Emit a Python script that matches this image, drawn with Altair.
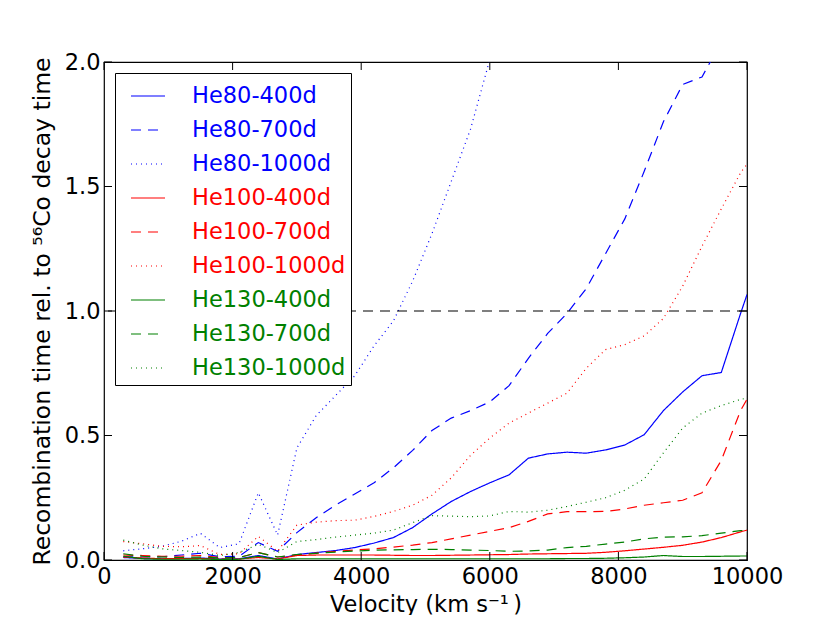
import altair as alt
import pandas as pd

velocity = [300, 600, 900, 1200, 1500, 1800, 2100, 2400, 2700, 3000, 3300, 3600,
            3900, 4200, 4500, 4800, 5100, 5400, 5700, 6000, 6300, 6600, 6900, 7200,
            7500, 7800, 8100, 8400, 8700, 9000, 9300, 9600, 9900, 10000]

he80_400 = [0.010, 0.006, 0.005, 0.006, 0.008, 0.004, 0.005, 0.018, 0.004, 0.022, 0.030, 0.038,
            0.050, 0.068, 0.090, 0.130, 0.185, 0.235, 0.275, 0.310, 0.342, 0.409, 0.426, 0.433,
            0.429, 0.442, 0.462, 0.503, 0.600, 0.675, 0.740, 0.753, 0.990, 1.066]
he80_700 = [0.013, 0.012, 0.013, 0.020, 0.027, 0.013, 0.015, 0.070, 0.035, 0.110, 0.170, 0.220,
            0.265, 0.310, 0.370, 0.440, 0.520, 0.570, 0.600, 0.635, 0.700, 0.810, 0.910, 0.990,
            1.090, 1.230, 1.370, 1.560, 1.760, 1.910, 1.940, 2.080, 2.200, 2.250]
he80_1000 = [0.037, 0.045, 0.055, 0.075, 0.107, 0.050, 0.065, 0.270, 0.100, 0.450, 0.580, 0.660,
             0.740, 0.860, 0.960, 1.120, 1.310, 1.520, 1.730, 2.010, 2.300, None, None, None,
             None, None, None, None, None, None, None, None, None, None]
he100_400 = [0.012, 0.008, 0.005, 0.006, 0.006, 0.003, 0.004, 0.010, 0.004, 0.018, 0.020, 0.020,
             0.020, 0.020, 0.019, 0.018, 0.018, 0.019, 0.020, 0.021, 0.022, 0.024, 0.025, 0.026,
             0.027, 0.031, 0.037, 0.044, 0.051, 0.059, 0.072, 0.090, 0.113, 0.120]
he100_700 = [0.020, 0.018, 0.015, 0.015, 0.018, 0.010, 0.010, 0.030, 0.012, 0.020, 0.028, 0.035,
             0.040, 0.045, 0.052, 0.060, 0.070, 0.085, 0.100, 0.115, 0.130, 0.155, 0.185, 0.194,
             0.194, 0.195, 0.205, 0.220, 0.230, 0.240, 0.270, 0.400, 0.600, 0.645]
he100_1000 = [0.074, 0.065, 0.055, 0.053, 0.058, 0.022, 0.025, 0.095, 0.035, 0.140, 0.152, 0.158,
              0.160, 0.175, 0.195, 0.220, 0.260, 0.330, 0.420, 0.490, 0.550, 0.590, 0.630, 0.670,
              0.770, 0.845, 0.865, 0.900, 0.970, 1.100, 1.260, 1.410, 1.555, 1.590]
he130_400 = [0.015, 0.005, 0.003, 0.003, 0.004, 0.002, 0.003, 0.015, 0.002, 0.005, 0.005, 0.005,
             0.005, 0.005, 0.005, 0.005, 0.005, 0.005, 0.005, 0.005, 0.005, 0.005, 0.005, 0.006,
             0.006, 0.007, 0.009, 0.012, 0.018, 0.014, 0.014, 0.015, 0.016, 0.016]
he130_700 = [0.025, 0.015, 0.012, 0.010, 0.012, 0.008, 0.010, 0.030, 0.012, 0.022, 0.027, 0.032,
             0.036, 0.039, 0.041, 0.042, 0.043, 0.042, 0.040, 0.038, 0.035, 0.036, 0.040, 0.050,
             0.055, 0.064, 0.072, 0.085, 0.092, 0.093, 0.098, 0.108, 0.118, 0.120]
he130_1000 = [0.080, 0.060, 0.045, 0.038, 0.031, 0.018, 0.030, 0.063, 0.030, 0.074, 0.082, 0.092,
              0.100, 0.108, 0.120, 0.150, 0.178, 0.176, 0.174, 0.177, 0.195, 0.192, 0.200, 0.215,
              0.232, 0.250, 0.280, 0.325, 0.430, 0.530, 0.590, 0.620, 0.645, 0.650]

series_names = ["He80-400d", "He80-700d", "He80-1000d",
                "He100-400d", "He100-700d", "He100-1000d",
                "He130-400d", "He130-700d", "He130-1000d"]
series_values = [he80_400, he80_700, he80_1000,
                 he100_400, he100_700, he100_1000,
                 he130_400, he130_700, he130_1000]
series_colors = ["#0000ff", "#0000ff", "#0000ff",
                 "#ff0000", "#ff0000", "#ff0000",
                 "#008000", "#008000", "#008000"]
series_dashes = [[1, 0], [10, 7], [1, 4]] * 3

x_ticks = [0, 2000, 4000, 6000, 8000, 10000]
y_ticks = [0.0, 0.5, 1.0, 1.5, 2.0]
ref_level = [1.0]

rows = []
for name, vals in zip(series_names, series_values):
    for v, val in zip(velocity, vals):
        if val is not None:
            rows.append({"velocity": v, "value": val, "series": name})
df = pd.DataFrame(rows)

W, H = 643, 498
FONT = "DejaVu Sans"
FS = 22.5

x_scale = alt.Scale(domain=[0, 10000], nice=False)
y_scale = alt.Scale(domain=[0, 2], nice=False)

lines = alt.Chart(df).mark_line(clip=True, strokeWidth=1.2).encode(
    x=alt.X("velocity:Q", scale=x_scale,
            axis=alt.Axis(values=x_ticks, format="d", title="Velocity (km s⁻¹\u2009)",
                          labelPadding=5, titleY=51, titleBaseline="alphabetic",
                          labelFlush=False, labelOverlap=False)),
    y=alt.Y("value:Q", scale=y_scale,
            axis=alt.Axis(values=y_ticks, format=".1f",
                          title="Recombination time rel. to ⁵⁶Co decay time",
                          titleFontSize=23.5,
                          labelPadding=4, titlePadding=10, labelFlush=False,
                          labelOverlap=False)),
    color=alt.Color("series:N",
                    scale=alt.Scale(domain=series_names, range=series_colors),
                    legend=alt.Legend(
                        title=None, orient="none", legendX=11, legendY=11,
                        direction="vertical",
                        strokeColor="black", fillColor="white", padding=5,
                        cornerRadius=0, symbolType="stroke", symbolSize=34 * 34,
                        symbolStrokeWidth=1.2, symbolOffset=10, labelOffset=26,
                        labelFont=FONT, labelFontSize=FS, labelLimit=400,
                        rowPadding=4,
                        labelColor={"expr": "scale('color', datum.value)"})),
    strokeDash=alt.StrokeDash("series:N",
                              scale=alt.Scale(domain=series_names, range=series_dashes)),
    order=alt.Order("velocity:Q"),
)

ref = alt.Chart(pd.DataFrame({"value": ref_level})).mark_rule(
    color="black", strokeDash=[10, 7], strokeWidth=1.2
).encode(y=alt.Y("value:Q", scale=y_scale))

xt_df = pd.DataFrame({"velocity": x_ticks})
yt_df = pd.DataFrame({"value": y_ticks})
tick_style = dict(color="black", strokeWidth=1)
xt_bottom = alt.Chart(xt_df).mark_rule(**tick_style).encode(
    x=alt.X("velocity:Q", scale=x_scale), y=alt.value(H), y2=alt.value(H - 8))
xt_top = alt.Chart(xt_df).mark_rule(**tick_style).encode(
    x=alt.X("velocity:Q", scale=x_scale), y=alt.value(0), y2=alt.value(8))
yt_left = alt.Chart(yt_df).mark_rule(**tick_style).encode(
    y=alt.Y("value:Q", scale=y_scale), x=alt.value(0), x2=alt.value(8))
yt_right = alt.Chart(yt_df).mark_rule(**tick_style).encode(
    y=alt.Y("value:Q", scale=y_scale), x=alt.value(W), x2=alt.value(W - 8))

chart = alt.layer(lines, ref, xt_bottom, xt_top, yt_left, yt_right).properties(
    width=W, height=H,
    autosize=alt.AutoSizeParams(type="none"),
    padding={"left": 96, "top": 54, "right": 60, "bottom": 55},
).configure(
    background="white"
).configure_view(
    stroke="black", strokeWidth=1.2
).configure_axis(
    labelFont=FONT, titleFont=FONT, labelFontSize=FS, titleFontSize=FS,
    titleFontWeight="normal", labelColor="black", titleColor="black",
    domain=False, ticks=False, grid=False,
)

chart.save("out.html", embed_options={"renderer": "svg", "actions": False})
